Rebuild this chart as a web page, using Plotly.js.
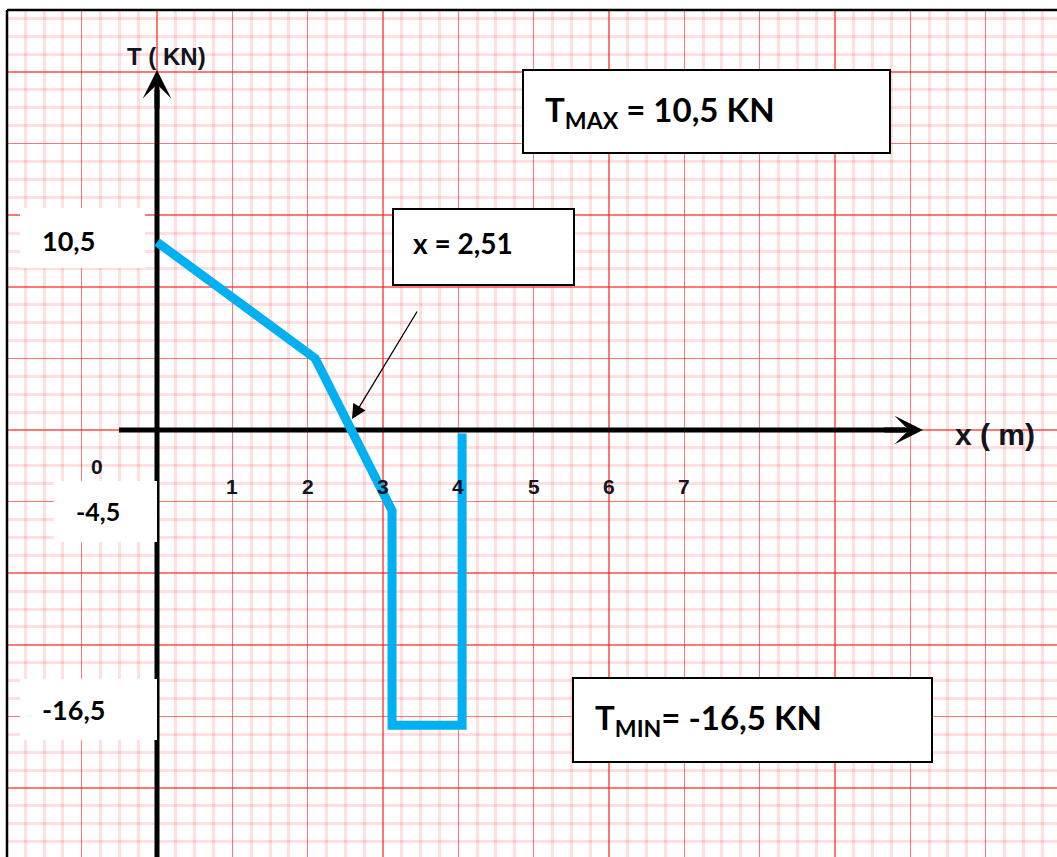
<!DOCTYPE html>
<html>
<head>
<meta charset="utf-8">
<script src="https://cdn.plot.ly/plotly-3.0.1.min.js"></script>
<style>
  html, body { margin: 0; padding: 0; background: #fff; }
  #chart { width: 1057px; height: 857px; }
</style>
</head>
<body>
<div id="chart"></div>
<script>
// ---- data (shear force diagram T(x)) ----
const xPositions = [0, 2.1, 3.12, 3.12, 4.05, 4.05];      // m
const shearValues = [10.5, 4, -4.5, -16.5, -16.5, -0.2];  // kN
const tickValues = [0, 1, 2, 3, 4, 5, 6, 7];
const tickLabels = ['0', '1', '2', '3', '4', '5', '6', '7'];
const valueLabels = ['10,5', '-4,5', '-16,5'];
const tMaxText = '<b>T<sub>MAX</sub> = 10,5 KN</b>';
const tMinText = '<b>T<sub>MIN</sub>= -16,5 KN</b>';
const zeroText = '<b>x = 2,51</b>';
const yTitle = '<b>T ( KN)</b>';
const xTitle = '<b>x ( m)</b>';

// ---- pixel helpers for layout decorations (not data) ----
const ORIGIN_PX = 157, ORIGIN_PY = 430, PX_PER_M = 75.33, PX_PER_KN = 17.9;
const X = px => (px - ORIGIN_PX) / PX_PER_M;
const Y = py => (ORIGIN_PY - py) / PX_PER_KN;

const LEFT = 7, TOP = 10, W = 1057, H = 857;

const boxFont = 'Lato, "Open Sans", sans-serif';
const tickFont = '"Liberation Sans", Arial, sans-serif';

function rectShape(x0, y0, x1, y1, bordered) {
  return {
    type: 'rect', xref: 'x', yref: 'y', layer: 'between',
    x0: X(x0), x1: X(x1), y0: Y(y0), y1: Y(y1),
    fillcolor: '#ffffff',
    line: { color: bordered ? '#000000' : 'rgba(0,0,0,0)', width: bordered ? 2 : 0 }
  };
}

const shapes = [
  // axes (thick black)
  { type: 'line', xref: 'x', yref: 'y', layer: 'between', x0: X(119), x1: X(905), y0: 0, y1: 0,
    line: { color: '#000', width: 5 } },
  { type: 'line', xref: 'x', yref: 'y', layer: 'between', x0: 0, x1: 0, y0: Y(870), y1: Y(90),
    line: { color: '#000', width: 5 } },
  // white label boxes
  rectShape(20, 208, 145, 268, false),
  rectShape(54, 481, 157, 542, false),
  rectShape(20, 679, 157, 740, false),
  // bordered boxes
  rectShape(523, 70, 890, 153, true),
  rectShape(393, 209, 574, 285, true),
  rectShape(573, 678, 932, 762, true),
  // frame
  { type: 'line', xref: 'paper', yref: 'paper', x0: 0, x1: 0, y0: 0, y1: 1, line: { color: '#000', width: 2.5 } },
  { type: 'line', xref: 'paper', yref: 'paper', x0: 0, x1: 1, y0: 1, y1: 1, line: { color: '#000', width: 2.5 } }
];

const annotations = [];
// arrowheads of axes
annotations.push({ x: X(923), y: 0, xref: 'x', yref: 'y', ax: -40, ay: 0, text: '', showarrow: true,
  arrowhead: 3, arrowwidth: 5, arrowsize: 0.95, arrowcolor: '#000' });
annotations.push({ x: 0, y: Y(70), xref: 'x', yref: 'y', ax: 0, ay: 40, text: '', showarrow: true,
  arrowhead: 3, arrowwidth: 5, arrowsize: 0.95, arrowcolor: '#000' });
// thin arrow pointing at zero crossing
annotations.push({ x: X(352), y: Y(419), xref: 'x', yref: 'y', ax: X(418), ay: Y(310), axref: 'x', ayref: 'y',
  text: '', showarrow: true, arrowhead: 2, arrowwidth: 1.3, arrowsize: 2.2, arrowcolor: '#000' });

// tick labels on the x axis
tickValues.forEach((v, i) => {
  const isZero = v === 0;
  annotations.push({
    x: isZero ? X(97) : v, y: isZero ? Y(466) : Y(486), xref: 'x', yref: 'y',
    text: '<b>' + tickLabels[i] + '</b>', showarrow: false, xanchor: 'center', yanchor: 'middle',
    font: { family: tickFont, size: 21, color: '#141420' }
  });
});

// axis titles
annotations.push({ x: X(166), y: Y(56), xref: 'x', yref: 'y', text: yTitle, showarrow: false,
  font: { family: tickFont, size: 24, color: '#141420' } });
annotations.push({ x: X(995), y: Y(434), xref: 'x', yref: 'y', text: xTitle, showarrow: false,
  font: { family: tickFont, size: 30, color: '#141420' } });

// value labels in white boxes
const valueLabelPos = [[40, 240, 27], [74, 511, 25], [40, 709, 27]];
valueLabels.forEach((t, i) => {
  const p = valueLabelPos[i];
  annotations.push({ x: X(p[0]), y: Y(p[1]), xref: 'x', yref: 'y', text: '<b>' + t + '</b>',
    showarrow: false, xanchor: 'left', yanchor: 'middle',
    font: { family: boxFont, size: p[2], color: '#000' } });
});

// bordered box texts
annotations.push({ x: X(543), y: Y(111), xref: 'x', yref: 'y', text: tMaxText, showarrow: false,
  xanchor: 'left', yanchor: 'middle', font: { family: boxFont, size: 33, color: '#000' } });
annotations.push({ x: X(411), y: Y(243), xref: 'x', yref: 'y', text: zeroText, showarrow: false,
  xanchor: 'left', yanchor: 'middle', font: { family: boxFont, size: 28, color: '#000' } });
annotations.push({ x: X(593), y: Y(719), xref: 'x', yref: 'y', text: tMinText, showarrow: false,
  xanchor: 'left', yanchor: 'middle', font: { family: boxFont, size: 33, color: '#000' } });

const trace = {
  x: xPositions, y: shearValues, type: 'scatter', mode: 'lines',
  line: { color: '#00B0F0', width: 9 }, hoverinfo: 'skip'
};

const gridMajor = 'rgba(255,30,30,0.6)';
const gridMinor = 'rgba(255,80,80,0.18)';

const layout = {
  width: W, height: H,
  margin: { l: LEFT, t: TOP, r: 0, b: 0, pad: 0 },
  paper_bgcolor: '#ffffff', plot_bgcolor: '#ffffff',
  showlegend: false,
  xaxis: {
    range: [X(LEFT), X(W)], dtick: 1, tick0: 0, showgrid: true, gridcolor: gridMajor, gridwidth: 1.5,
    minor: { dtick: 0.25, tick0: 0, showgrid: true, gridcolor: gridMinor, gridwidth: 3 },
    zeroline: false, showticklabels: false, ticks: '', showline: false, fixedrange: true
  },
  yaxis: {
    range: [Y(H), Y(TOP)], dtick: 4, tick0: 0, showgrid: true, gridcolor: gridMajor, gridwidth: 1.5,
    minor: { dtick: 1, tick0: 0, showgrid: true, gridcolor: gridMinor, gridwidth: 3 },
    zeroline: false, showticklabels: false, ticks: '', showline: false, fixedrange: true
  },
  shapes: shapes,
  annotations: annotations
};

Plotly.newPlot('chart', [trace], layout, { displayModeBar: false, staticPlot: true });
</script>
</body>
</html>
